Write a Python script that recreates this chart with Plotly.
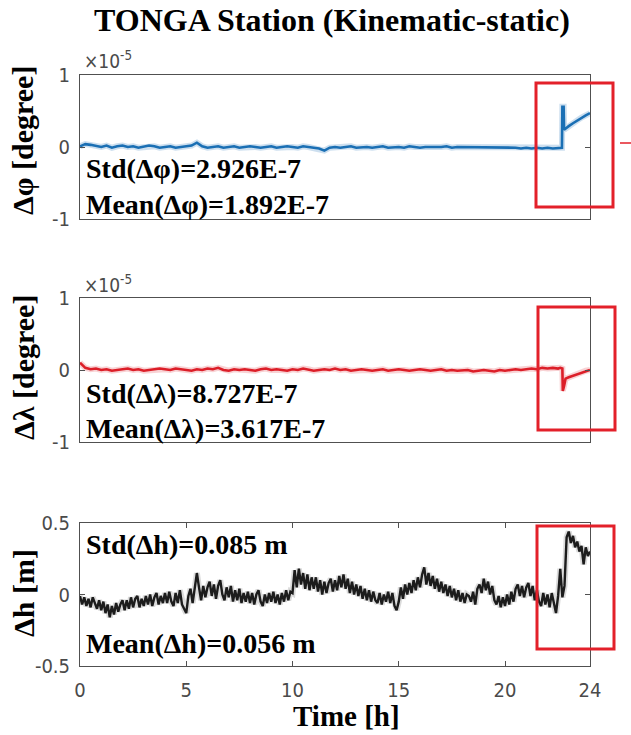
import numpy as np
import plotly.graph_objects as go

W, H = 631, 735

# ---------------- data ----------------
# latitude difference, units of 1e-5 degree, every 0.25 h from 0 to 22.5 h
dphi_t_step = 0.25
dphi_main = [
    0.01, 0.04, 0.03, 0.01, 0.00, 0.02, -0.01, 0.01,
    0.02, 0.00, 0.01, -0.01, 0.00, 0.02, 0.01, -0.01,
    0.00, 0.01, -0.01, 0.00, 0.01, 0.02, 0.06, 0.01,
    -0.01, 0.00, 0.01, -0.01, 0.00, 0.01, -0.01, 0.00,
    0.01, 0.00, -0.01, 0.00, 0.01, -0.01, 0.00, 0.01,
    0.00, -0.01, 0.01, 0.00, -0.01, -0.02, -0.05, -0.01,
    0.00, -0.01, 0.00, 0.01, -0.01, 0.00, 0.00, -0.01,
    0.00, 0.01, -0.01, 0.00, 0.00, -0.01, 0.01, 0.00,
    -0.01, 0.00, 0.00, -0.01, 0.00, 0.01, -0.01, 0.00,
    0.00, -0.01, 0.00, 0.00, -0.01, 0.00, -0.01, 0.00,
    -0.01, 0.00, -0.01, -0.02, -0.01, -0.02, -0.01, -0.02,
    -0.01, -0.02, -0.01,
]
dphi_tail_t = [22.6, 22.68, 22.7, 22.76, 22.78, 22.9, 23.0, 23.2, 23.4, 23.6, 23.8, 24.0]
dphi_tail = [-0.01, -0.01, 0.56, 0.56, 0.24, 0.27, 0.29, 0.33, 0.37, 0.41, 0.44, 0.47]

# longitude difference, units of 1e-5 degree
dlam_main = [
    0.10, 0.03, 0.01, 0.02, 0.00, 0.01, -0.01, 0.00,
    0.01, 0.02, 0.00, 0.01, -0.01, 0.00, 0.01, 0.02,
    0.01, 0.00, 0.02, 0.01, 0.00, -0.01, 0.01, 0.00,
    0.02, 0.01, 0.03, 0.00, -0.01, 0.01, 0.00, 0.01,
    0.00, -0.01, 0.01, 0.02, 0.00, 0.01, 0.00, -0.01,
    0.01, 0.00, 0.02, 0.01, -0.01, 0.00, 0.01, 0.00,
    0.02, 0.00, 0.01, -0.01, 0.00, 0.01, 0.00, -0.01,
    0.00, 0.01, -0.01, 0.00, 0.01, 0.00, -0.01, 0.00,
    0.01, 0.00, -0.01, 0.00, 0.01, -0.01, 0.00, -0.01,
    -0.01, 0.00, -0.02, -0.01, 0.00, -0.01, -0.02, 0.00,
    -0.01, 0.00, 0.01, 0.00, 0.01, 0.02, 0.01, 0.03,
    0.02, 0.03, 0.02,
]
dlam_tail_t = [22.6, 22.7, 22.72, 22.78, 22.85, 23.0, 23.2, 23.4, 23.6, 23.8, 24.0]
dlam_tail = [0.03, 0.02, -0.29, -0.22, -0.12, -0.10, -0.08, -0.06, -0.03, -0.01, 0.00]

# height difference in metres, every 0.1 h from 0 to 24 h
dh_t_step = 0.1
dh = [
    -0.01, -0.07, -0.02, -0.08, -0.03, -0.09, -0.02, -0.06, -0.10, -0.04,
    -0.11, -0.05, -0.13, -0.07, -0.16, -0.08, -0.14, -0.06, -0.12, -0.07,
    -0.04, -0.11, -0.04, -0.10, -0.02, -0.09, -0.03, -0.01, -0.09, -0.03,
    -0.08, -0.01, -0.07, 0.00, -0.08, -0.02, 0.01, -0.07, -0.01, -0.06,
    0.01, -0.06, 0.02, -0.05, -0.08, 0.01, -0.06, 0.03, -0.07, -0.10,
    -0.13, -0.01, 0.04, -0.06, 0.03, 0.15, 0.05, -0.04, 0.06, -0.02,
    0.05, 0.09, -0.01, 0.07, -0.03, 0.06, 0.10, 0.00, -0.04, 0.05,
    -0.02, 0.06, -0.05, 0.03, -0.04, 0.04, -0.06, 0.01, -0.05, 0.02,
    -0.06, 0.01, -0.07, 0.00, 0.03, -0.05, -0.08, 0.00, -0.06, 0.01,
    -0.05, 0.02, -0.06, 0.00, -0.07, 0.01, -0.05, 0.03, -0.04, 0.02,
    0.01, 0.17, 0.05, 0.18, 0.07, 0.15, 0.04, 0.14, 0.03, 0.12,
    0.04, 0.12, 0.02, 0.10, 0.00, 0.09, 0.01, 0.08, 0.11, 0.02,
    0.10, 0.03, 0.13, 0.05, 0.14, 0.04, 0.11, 0.01, 0.09, 0.00,
    0.07, -0.01, 0.06, -0.03, 0.04, -0.04, 0.03, -0.05, 0.02, -0.04,
    -0.06, 0.01, -0.07, 0.00, -0.05, 0.02, -0.06, 0.01, -0.08, -0.11,
    -0.05, 0.05, -0.03, 0.07, 0.00, 0.08, 0.01, 0.10, 0.03, 0.12,
    0.05, 0.14, 0.19, 0.07, 0.15, 0.06, 0.13, 0.04, 0.11, 0.02,
    0.09, 0.01, 0.07, -0.01, 0.06, -0.02, 0.04, -0.04, 0.03, -0.05,
    0.01, -0.06, 0.00, -0.01, -0.05, 0.02, -0.07, 0.04, 0.07, 0.01,
    0.11, 0.03, 0.09, 0.00, 0.06, -0.04, -0.07, -0.01, -0.09, -0.02,
    -0.08, 0.00, -0.07, 0.02, -0.05, 0.04, 0.07, -0.01, 0.06, -0.02,
    0.05, 0.08, -0.01, 0.06, -0.04, 0.03, -0.05, -0.08, 0.01, -0.07,
    0.00, -0.09, 0.01, -0.07, -0.13, -0.01, 0.18, -0.02, 0.06, 0.40,
    0.44, 0.36, 0.41, 0.33, 0.37, 0.30, 0.34, 0.21, 0.33, 0.27,
    0.30,
]

stats_text = [
    ("Std(Δφ)=2.926E-7", "Mean(Δφ)=1.892E-7"),
    ("Std(Δλ)=8.727E-7", "Mean(Δλ)=3.617E-7"),
    ("Std(Δh)=0.085 m", "Mean(Δh)=0.056 m"),
]
y_titles = ["Δφ [degree]", "Δλ [degree]", "Δh [m]"]
x_ticks = [0, 5, 10, 15, 20, 24]
chart_title = "TONGA Station (Kinematic-static)"
x_title = "Time [h]"

# ---------------- assemble time bases ----------------
t_phi = list(np.arange(len(dphi_main)) * dphi_t_step) + dphi_tail_t
v_phi = dphi_main + dphi_tail
t_lam = list(np.arange(len(dlam_main)) * dphi_t_step) + dlam_tail_t
v_lam = dlam_main + dlam_tail
t_h = list(np.arange(len(dh)) * dh_t_step)

BLUE = "#1a6fb4"
RED = "#dc1e28"
BLACK = "#1c1c1c"
BOX_RED = "#e3202a"
AX = "#505050"
NARROW = "Liberation Sans Narrow, DejaVu Sans Condensed, Liberation Sans, sans-serif"
TICK_FONT = dict(family=NARROW, size=20, color="#4a4a4a")
SERIF = "Liberation Serif, Times New Roman, serif"


def px_x(x):
    return x / W


def px_y(y):
    return 1 - y / H


fig = go.Figure()

# faint halo under each line, then the line itself
for t, v, col, halo, ax, lw in [
    (t_phi, v_phi, BLUE, "rgba(26,111,180,0.22)", "", 2.6),
    (t_lam, v_lam, RED, "rgba(220,30,40,0.20)", "2", 2.6),
    (t_h, dh, BLACK, "rgba(28,28,28,0.16)", "3", 2.4),
]:
    fig.add_trace(go.Scatter(x=t, y=v, mode="lines", line=dict(color=halo, width=6),
                             xaxis="x" + ax, yaxis="y" + ax, hoverinfo="skip", showlegend=False))
    fig.add_trace(go.Scatter(x=t, y=v, mode="lines", line=dict(color=col, width=lw),
                             xaxis="x" + ax, yaxis="y" + ax, showlegend=False))

# panel boxes in pixels (top, bottom)
panels = [(75, 219), (298, 442), (523, 666)]
x_dom = [px_x(80), px_x(590)]

layout = dict(
    width=W, height=H, margin=dict(l=0, r=0, t=0, b=0, autoexpand=False),
    paper_bgcolor="white", plot_bgcolor="white",
    showlegend=False,
)

for i, (top, bot) in enumerate(panels):
    sfx = "" if i == 0 else str(i + 1)
    last = i == 2
    layout["xaxis" + sfx] = dict(
        domain=x_dom, range=[0, 24], anchor="y" + sfx,
        showline=True, linecolor=AX, linewidth=1, mirror="ticks" if last else True,
        showgrid=False, zeroline=False,
        ticks="inside" if last else "", ticklen=5, tickcolor=AX,
        tickvals=x_ticks, showticklabels=last,
        tickfont=TICK_FONT, ticklabelstandoff=6,
    )
    if last:
        yr, tv, tt = [-0.5, 0.5], [-0.5, 0, 0.5], ["-0.5", "0", "0.5"]
    else:
        yr, tv, tt = [-1, 1], [-1, 0, 1], ["-1", "0", "1"]
    layout["yaxis" + sfx] = dict(
        domain=[px_y(bot), px_y(top)], range=yr, anchor="x" + sfx,
        showline=True, linecolor=AX, linewidth=1, mirror="ticks",
        showgrid=False, zeroline=False,
        ticks="inside", ticklen=5, tickcolor=AX,
        tickvals=tv, ticktext=tt, tickfont=TICK_FONT, ticklabelstandoff=5,
    )

annotations = []
# title
annotations.append(dict(text="<b>" + chart_title + "</b>", x=px_x(332), y=px_y(20),
                        xref="paper", yref="paper", showarrow=False,
                        font=dict(family=SERIF, size=32, color="black"),
                        xanchor="center", yanchor="middle"))
# x title
annotations.append(dict(text="<b>" + x_title + "</b>", x=px_x(346), y=px_y(716),
                        xref="paper", yref="paper", showarrow=False,
                        font=dict(family=SERIF, size=29, color="black"),
                        xanchor="center", yanchor="middle", borderpad=0))
# y titles
for yc, txt in zip([141, 368, 593], y_titles):
    annotations.append(dict(text="<b>" + txt + "</b>", x=px_x(23), y=px_y(yc),
                            xref="paper", yref="paper", showarrow=False, textangle=-90,
                            font=dict(family=SERIF, size=30, color="black"),
                            xanchor="center", yanchor="middle"))
# exponent labels
for yc in [60, 284]:
    annotations.append(dict(text="×10<sup>-5</sup>", x=px_x(82), y=px_y(yc),
                            xref="paper", yref="paper", showarrow=False,
                            font=dict(family=NARROW, size=19, color="#4a4a4a"),
                            xanchor="left", yanchor="middle"))
# statistics
stat_pos = [(169, 204), (394, 428), (544, 643)]
for (ys, ym), (s_txt, m_txt) in zip(stat_pos, stats_text):
    for yc, txt in [(ys, s_txt), (ym, m_txt)]:
        annotations.append(dict(text="<b>" + txt + "</b>", x=px_x(84), y=px_y(yc),
                                xref="paper", yref="paper", showarrow=False,
                                font=dict(family=SERIF, size=28, color="black"),
                                xanchor="left", yanchor="middle"))
layout["annotations"] = annotations

# red highlight frames around the last hours
shapes = []
for x0, x1, y0, y1 in [(536, 613, 83, 207), (538, 615, 307, 430), (537, 614, 526, 649)]:
    shapes.append(dict(type="rect", xref="paper", yref="paper",
                       x0=px_x(x0), x1=px_x(x1), y0=px_y(y1), y1=px_y(y0),
                       line=dict(color=BOX_RED, width=3), fillcolor="rgba(0,0,0,0)"))
shapes.append(dict(type="line", xref="paper", yref="paper",
                   x0=px_x(620), x1=px_x(631), y0=px_y(143), y1=px_y(143),
                   line=dict(color=BOX_RED, width=1.5)))
layout["shapes"] = shapes

fig.update_layout(**layout)
fig.write_html(
    "out.html",
    post_script="document.body.style.margin='0';document.body.style.padding='0';"
                "document.body.style.overflow='hidden';",
)
